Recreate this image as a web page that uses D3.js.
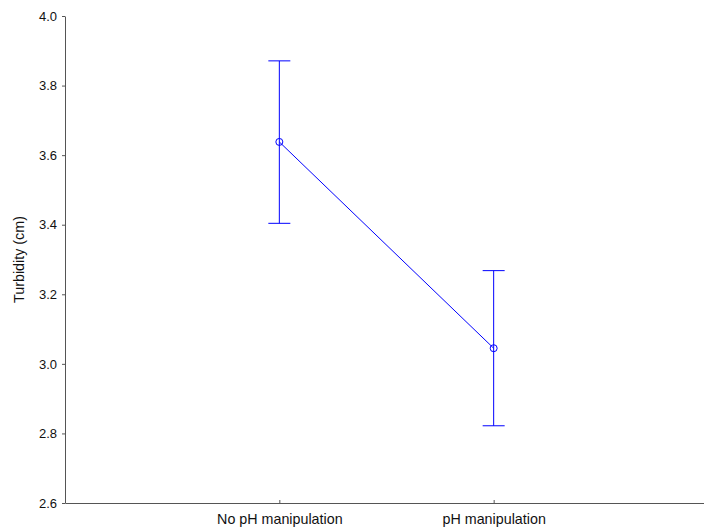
<!DOCTYPE html>
<html>
<head>
<meta charset="utf-8">
<script src="https://cdn.jsdelivr.net/npm/d3@7"></script>
<style>
  body { margin: 0; background: #fff; }
  svg { display: block; font-family: "Liberation Sans", Arial, sans-serif; }
</style>
</head>
<body>
<svg id="chart" width="704" height="531"></svg>
<script>
// Group means of turbidity with confidence intervals
const categories = ["No pH manipulation", "pH manipulation"];
const means = [3.638, 3.045];
const upper = [3.871, 3.268];
const lower = [3.404, 2.822];
const yTicks = [2.6, 2.8, 3.0, 3.2, 3.4, 3.6, 3.8, 4.0];

const svg = d3.select("#chart");
const plotLeft = 65, plotRight = 708, plotTop = 16, plotBottom = 503;

const x = d3.scalePoint().domain(categories).range([plotLeft, plotRight]).padding(1);
const y = d3.scaleLinear().domain([2.6, 4.0]).range([plotBottom, plotTop]);

const axisColor = "#555";

// Y axis
const gy = svg.append("g").attr("transform", `translate(${plotLeft},0)`)
  .call(d3.axisLeft(y).tickValues(yTicks).tickFormat(d3.format(".1f")).tickSizeInner(3).tickSizeOuter(0).tickPadding(5));
gy.select(".domain").attr("stroke", axisColor);
gy.selectAll(".tick line").attr("stroke", axisColor);
gy.selectAll("text").attr("font-size", 13).attr("fill", "#111");

// X axis (ticks pointing inward)
const gx = svg.append("g").attr("transform", `translate(0,${plotBottom})`)
  .call(d3.axisBottom(x).tickSizeInner(-3).tickSizeOuter(0).tickPadding(11));
gx.select(".domain").attr("stroke", axisColor);
gx.selectAll(".tick line").attr("stroke", axisColor);
gx.selectAll("text").attr("font-size", 14.3).attr("fill", "#111");

// Y axis title
svg.append("text")
  .attr("transform", `translate(24,${(plotTop + plotBottom) / 2}) rotate(-90)`)
  .attr("text-anchor", "middle")
  .attr("font-size", 14.3)
  .attr("fill", "#111")
  .text("Turbidity (cm)");

const blue = "#0000ff";
const data = categories.map((c, i) => ({ c, m: means[i], hi: upper[i], lo: lower[i] }));

// Line connecting means
svg.append("path")
  .datum(data)
  .attr("fill", "none")
  .attr("stroke", blue)
  .attr("stroke-width", 1)
  .attr("d", d3.line().x(d => x(d.c)).y(d => y(d.m)));

// Error bars
const eb = svg.append("g").attr("stroke", blue).attr("stroke-width", 1);
data.forEach(d => {
  const cx = x(d.c);
  eb.append("line").attr("x1", cx).attr("x2", cx).attr("y1", y(d.hi)).attr("y2", y(d.lo));
  eb.append("line").attr("x1", cx - 11).attr("x2", cx + 11).attr("y1", y(d.hi)).attr("y2", y(d.hi));
  eb.append("line").attr("x1", cx - 11).attr("x2", cx + 11).attr("y1", y(d.lo)).attr("y2", y(d.lo));
});

// Mean markers
svg.append("g").selectAll("circle").data(data).join("circle")
  .attr("cx", d => x(d.c))
  .attr("cy", d => y(d.m))
  .attr("r", 3.5)
  .attr("fill", "none")
  .attr("stroke", blue)
  .attr("stroke-width", 1);
</script>
</body>
</html>
